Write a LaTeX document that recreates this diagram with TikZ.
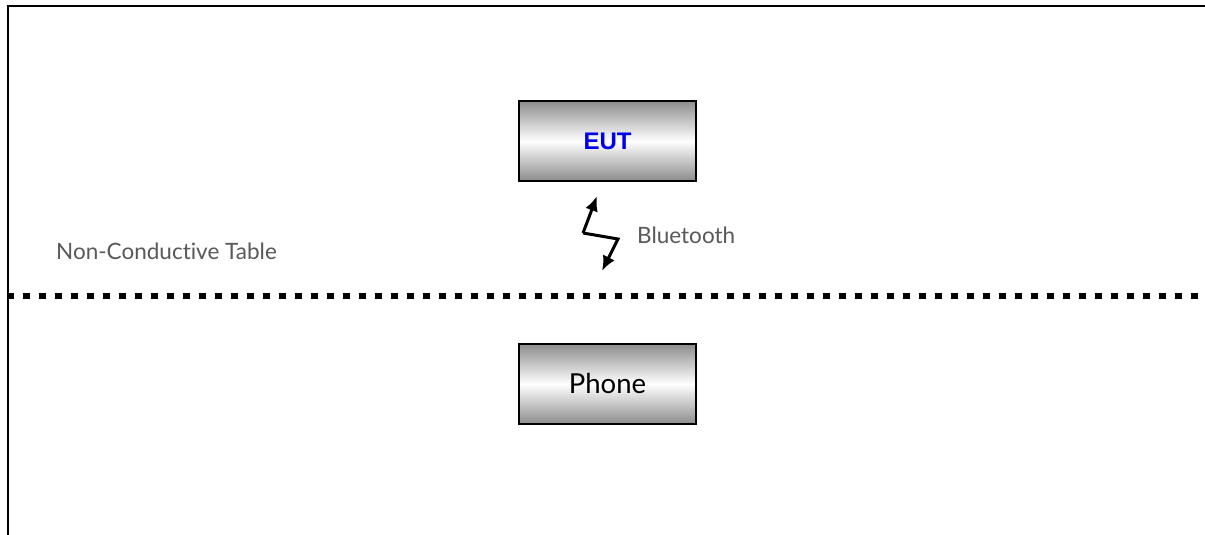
\documentclass[tikz,border=0pt]{standalone}
\usepackage{fontspec}
\usetikzlibrary{arrows.meta}
\setmainfont[Ligatures=NoCommon]{Lato}
\newfontfamily\arialfont{Liberation Sans}
\definecolor{labelgray}{HTML}{595959}
\definecolor{eutblue}{HTML}{0000F0}
\begin{document}
\begin{tikzpicture}[x=1pt,y=-1pt,
  devbox/.style={draw=black,line width=1.5pt,minimum width=177pt,minimum height=80pt,
    inner sep=0pt,top color=gray!90,bottom color=gray!90,middle color=white,shading angle=0},
  graylabel/.style={text=labelgray,font=\fontsize{22.5}{24}\selectfont,inner sep=0pt},
  bolt/.style={line width=3pt,-{Latex[length=15pt,width=13pt]},line join=miter},
]
\useasboundingbox (0,0) rectangle (1205,535);
\fill[white] (0,0) rectangle (1205,535);
% frame
\coordinate (tl) at (8,6);
\coordinate (tr) at (1205,6);
\coordinate (bl) at (8,535);
\draw[line width=2pt] (tr) -- (tl) -- (bl);
% table line
\coordinate (ta) at (7,296);
\coordinate (tb) at (1205,296);
\draw[line width=6.5pt,dash pattern=on 6.5pt off 9.5pt] (ta) -- (tb);
% boxes
\node[devbox] (eut) at (607.5,141) {\arialfont\bfseries\fontsize{24}{26}\selectfont\textcolor{eutblue}{EUT}};
\node[devbox] (phone) at (607.5,384) {\raisebox{2pt}{\fontsize{27.5}{29}\selectfont Phone}};
% labels
\node[graylabel,anchor=west] (table) at (56,251) {Non-Conductive Table};
\node[graylabel,anchor=west] (bt) at (637,235) {Bluetooth};
% bolt
\coordinate (k1) at (583,233);
\coordinate (k2) at (618,239);
\coordinate (top) at (597,196);
\coordinate (bot) at (602,271);
\draw[bolt] (k1) -- (top);
\draw[bolt] (k1) -- (k2) -- (bot);
\end{tikzpicture}
\end{document}
